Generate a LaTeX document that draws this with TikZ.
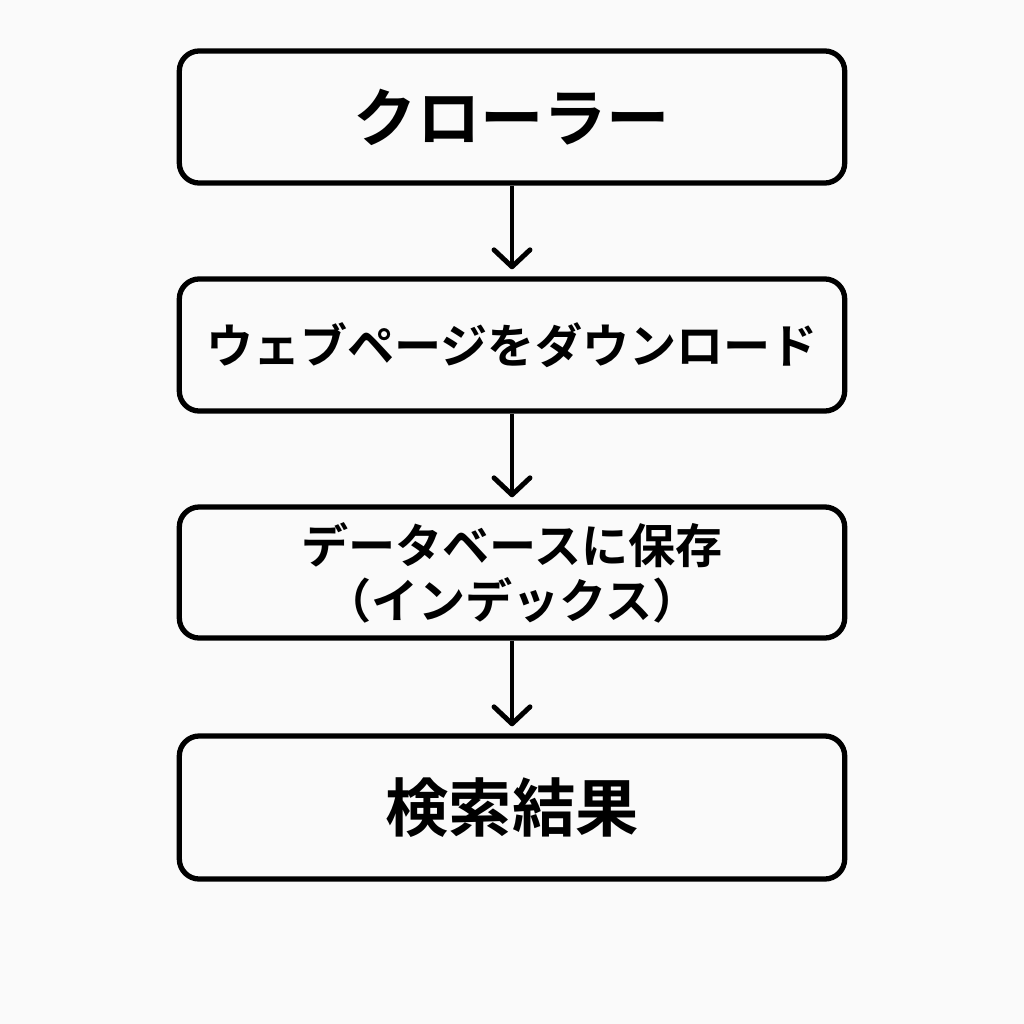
\documentclass[tikz,border=0pt]{standalone}
\usepackage{fontspec}
\setmainfont{Noto Sans CJK JP Bold}
\usetikzlibrary{arrows.meta}
\begin{document}
\begin{tikzpicture}[x=0.01cm,y=-0.01cm]
		\tikzstyle{box}=[draw, line width=1.5pt, rounded corners=0.2cm, minimum width=6.65cm, align=center, inner sep=0pt]
		\tikzstyle{flow}=[line width=1.4pt, -{Straight Barb[length=0.17cm, width=0.36cm, line cap=round, line join=round]}]
		
		\fill[black!2] (0,0) rectangle (1024,1024);
		\useasboundingbox (0,0) rectangle (1024,1024);
		
		\node (crawler) at (512,117) [box, minimum height=1.32cm, font=\fontsize{18}{22}\selectfont] {クローラー};
		\node (download) at (512,345) [box, minimum height=1.32cm, font=\fontsize{13.4}{16}\selectfont] {ウェブページをダウンロード};
		\node (store) at (512,572.5) [box, minimum height=1.31cm, font=\fontsize{13.4}{15.6}\selectfont] {データベースに保存\\（インデックス）};
		\node (result) at (512,807.5) [box, minimum height=1.43cm, font=\fontsize{18}{22}\selectfont] {検索結果};
		
		\draw[flow] (crawler.south)--([yshift=2pt]download.north);
		\draw[flow] (download.south)--([yshift=2pt]store.north);
		\draw[flow] (store.south)--([yshift=2pt]result.north);
		
\end{tikzpicture}
\end{document}
